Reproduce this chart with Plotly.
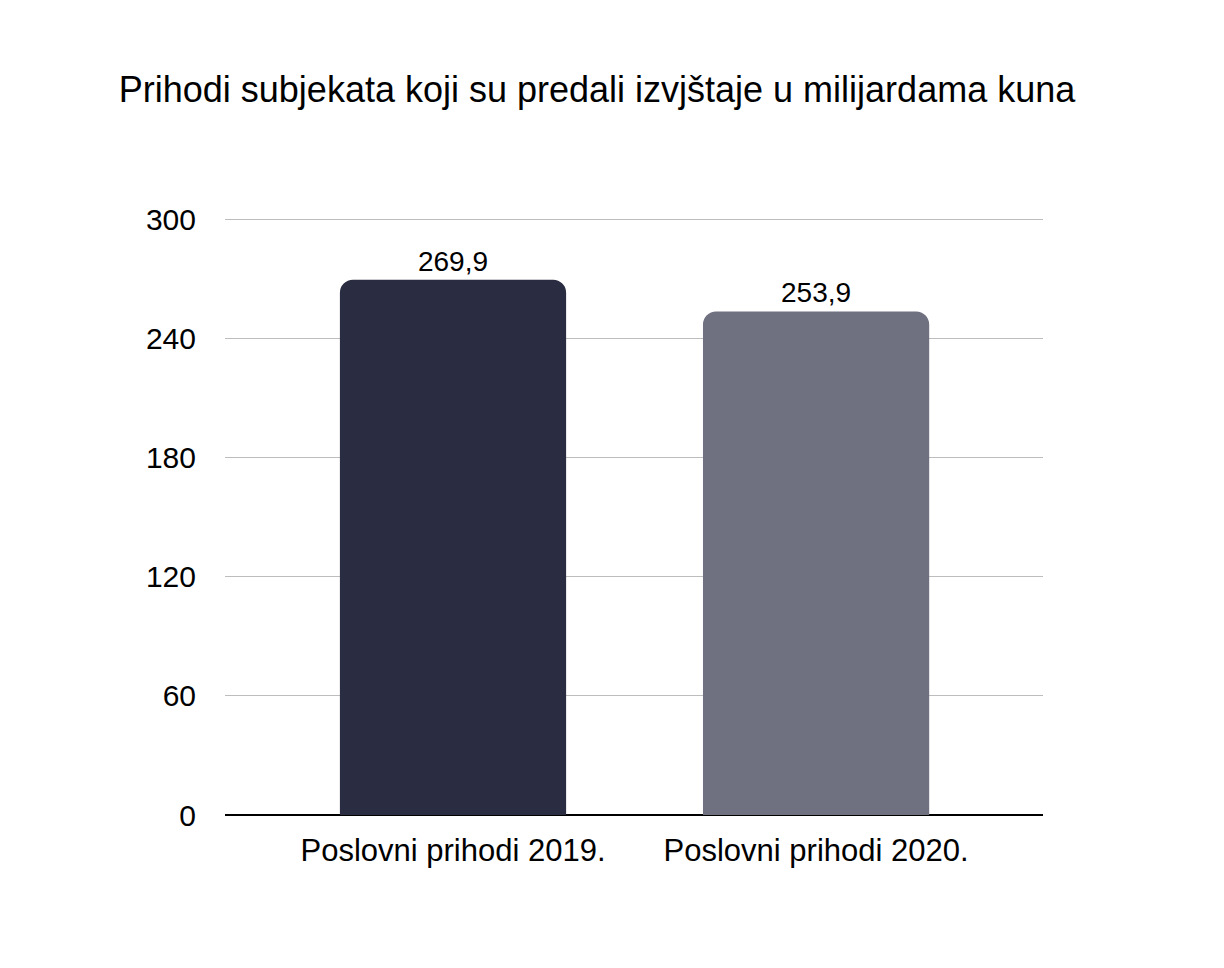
import plotly.graph_objects as go

categories = ["Poslovni prihodi 2019.", "Poslovni prihodi 2020."]
values = [269.9, 253.9]
colors = ["#2a2d42", "#6f7080"]
tick_vals = [0, 60, 120, 180, 240, 300]

FONT = "Liberation Sans, Arial, Helvetica, sans-serif"

fig = go.Figure(
    go.Bar(
        x=categories,
        y=values,
        marker=dict(color=colors, line_width=0),
        width=0.623,
        texttemplate="%{y:.1f}",
        textposition="outside",
        textfont=dict(size=28, color="#000000", family=FONT),
        cliponaxis=False,
        hoverinfo="x+y",
    )
)

fig.update_layout(
    width=1224,
    height=968,
    paper_bgcolor="white",
    plot_bgcolor="white",
    separators=",.",
    barcornerradius=13,
    showlegend=False,
    font=dict(family=FONT, color="#000000"),
    # extra headroom above 300 so the top gridline is drawn
    margin=dict(l=217, r=189, t=208, b=161),
    title=dict(
        text="Prihodi subjekata koji su predali izvjštaje u milijardama kuna",
        font=dict(size=36, color="#000000", family=FONT),
        xref="container",
        x=589 / 1224,
        xanchor="center",
        yref="container",
        y=1 - 81 / 968,
        yanchor="middle",
    ),
    xaxis=dict(
        range=[-0.628, 1.625],
        showgrid=False,
        showline=False,
        zeroline=False,
        ticks="",
        tickfont=dict(size=31, color="#000000"),
        ticklabelstandoff=14,
    ),
    yaxis=dict(
        range=[0, 302],
        tickvals=tick_vals,
        showgrid=True,
        gridcolor="#bdbdbd",
        gridwidth=1,
        zeroline=True,
        zerolinecolor="#000000",
        zerolinewidth=2,
        showline=False,
        ticks="",
        tickfont=dict(size=30, color="#000000"),
        ticklabelstandoff=28,
    ),
)

fig.write_html("out.html")
